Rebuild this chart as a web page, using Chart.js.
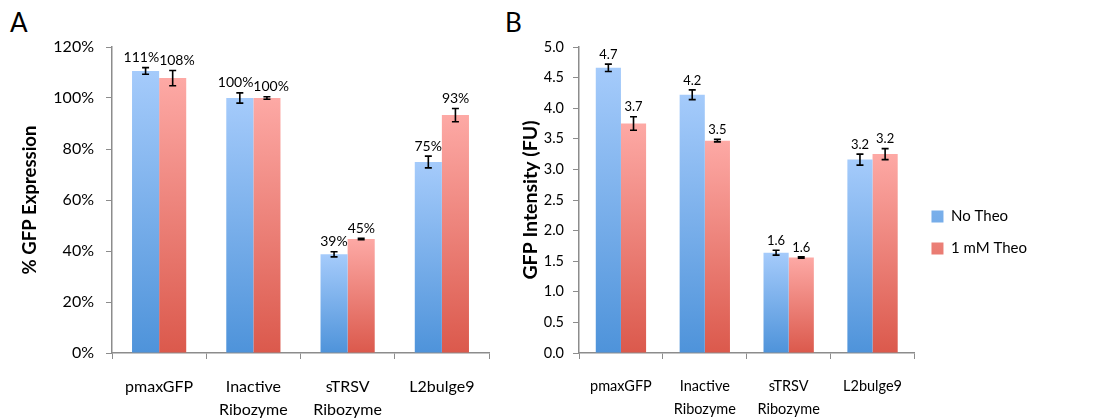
<!DOCTYPE html>
<html>
<head>
<meta charset="utf-8">
<script src="https://cdn.jsdelivr.net/npm/chart.js@4"></script>
<style>
  body { margin: 0; background: #fff; width: 1117px; height: 418px; overflow: hidden; position: relative; font-family: Lato, sans-serif; }
  .wrap { position: absolute; top: 0; height: 418px; }
  #wrapA { left: 0; width: 500px; }
  #wrapB { left: 500px; width: 617px; }
  .panel-tag { position: absolute; top: 6px; font-size: 26px; color: #000; }
</style>
</head>
<body>
<div class="panel-tag" style="left:10px">A</div>
<div class="panel-tag" style="left:505px">B</div>
<div class="wrap" id="wrapA"><canvas id="chartA"></canvas></div>
<div class="wrap" id="wrapB"><canvas id="chartB"></canvas></div>
<script>
// ---------- DATA ----------
const categories = ["pmaxGFP", ["Inactive", "Ribozyme"], ["sTRSV", "Ribozyme"], "L2bulge9"];
const seriesNames = ["No Theo", "1 mM Theo"];

// panel A: % GFP expression
const pctNoTheo   = [110.6, 100.0, 38.7, 74.9];
const pctTheo     = [107.8, 100.0, 44.7, 93.3];
const pctErrNo    = [1.3, 2.0, 1.0, 2.3];
const pctErrTheo  = [3.0, 0.5, 0.3, 2.6];
const pctLabelsNo   = ["111%", "100%", "39%", "75%"];
const pctLabelsTheo = ["108%", "100%", "45%", "93%"];

// panel B: GFP intensity (FU)
const fuNoTheo   = [4.66, 4.22, 1.64, 3.16];
const fuTheo     = [3.75, 3.47, 1.56, 3.25];
const fuErrNo    = [0.06, 0.08, 0.04, 0.09];
const fuErrTheo  = [0.11, 0.02, 0.01, 0.09];
const fuLabelsNo   = ["4.7", "4.2", "1.6", "3.2"];
const fuLabelsTheo = ["3.7", "3.5", "1.6", "3.2"];

const BLUE = ["#a5cbfb", "#4e93da"];
const RED  = ["#fda9a5", "#db594c"];

// ---------- HELPERS ----------
function barGradient(cols) {
  return function (ctx) {
    const chart = ctx.chart;
    const ys = chart.scales.y;
    if (ctx.type !== "data" || !ys || !chart.chartArea) return cols[1];
    const v = ctx.raw;
    const top = ys.getPixelForValue(v);
    const bot = ys.getPixelForValue(0);
    if (!isFinite(top) || !isFinite(bot) || top === bot) return cols[1];
    const g = chart.ctx.createLinearGradient(0, top, 0, bot);
    g.addColorStop(0, cols[0]);
    g.addColorStop(1, cols[1]);
    return g;
  };
}

// error bars + value labels, positioned through the y scale
const errorLabelPlugin = {
  id: "errLabels",
  afterDatasetsDraw(chart, args, opts) {
    const c = chart.ctx;
    const ys = chart.scales.y;
    c.save();
    chart.data.datasets.forEach((ds, di) => {
      const meta = chart.getDatasetMeta(di);
      meta.data.forEach((bar, i) => {
        const v = ds.data[i];
        const e = ds.errors[i];
        const yTop = ys.getPixelForValue(v + e);
        const yBot = ys.getPixelForValue(v - e);
        c.strokeStyle = "#000";
        c.lineWidth = 1.6;
        c.beginPath();
        c.moveTo(bar.x, yTop); c.lineTo(bar.x, yBot);
        c.moveTo(bar.x - 3.5, yTop); c.lineTo(bar.x + 3.5, yTop);
        c.moveTo(bar.x - 3.5, yBot); c.lineTo(bar.x + 3.5, yBot);
        c.stroke();

        c.font = opts.fontSize + "px Lato";
        c.fillStyle = "#000";
        c.textAlign = "center";
        c.textBaseline = "bottom";
        const txt = ds.valueLabels[i];
        const w = c.measureText(txt).width;
        let dx = 0;
        if (w > bar.width) dx = (w - bar.width) / 2 * (di === 0 ? -1 : 1);
        c.fillText(txt, bar.x + dx, yTop - 3);
      });
    });
    c.restore();
  }
};

function makeChart(id, cfg) {
  return new Chart(document.getElementById(id), {
    type: "bar",
    data: {
      labels: categories,
      datasets: [
        { label: seriesNames[0], data: cfg.no, errors: cfg.errNo, valueLabels: cfg.labNo,
          backgroundColor: barGradient(BLUE), borderWidth: 0 },
        { label: seriesNames[1], data: cfg.theo, errors: cfg.errTheo, valueLabels: cfg.labTheo,
          backgroundColor: barGradient(RED), borderWidth: 0 }
      ]
    },
    plugins: [errorLabelPlugin],
    options: {
      responsive: true,
      maintainAspectRatio: false,
      animation: false,
      events: [],
      categoryPercentage: cfg.catPct,
      barPercentage: 1.0,
      layout: { padding: cfg.padding },
      plugins: {
        legend: cfg.legend,
        tooltip: { enabled: false },
        errLabels: { fontSize: cfg.labelSize }
      },
      scales: {
        x: {
          grid: { display: true, drawOnChartArea: false, drawTicks: true, tickLength: 6, color: "#8c8c8c", offset: true },
          border: { color: "#8c8c8c", width: 1.5 },
          ticks: { color: "#000", font: { family: "Lato", size: cfg.tickSize, lineHeight: cfg.lineH }, padding: cfg.xPad, maxRotation: 0, autoSkip: false },
          afterFit: s => { s.height = cfg.xHeight; }
        },
        y: {
          min: 0, max: cfg.max,
          grid: { display: true, drawOnChartArea: false, drawTicks: true, tickLength: 6, color: "#8c8c8c" },
          border: { color: "#8c8c8c", width: 1.5 },
          ticks: { stepSize: cfg.step, color: "#000", font: { family: "Lato", size: cfg.tickSize }, padding: cfg.yPad, callback: cfg.fmt },
          title: { display: true, text: cfg.title, color: "#000", font: { family: "Lato", size: cfg.titleSize, weight: "bold" }, padding: 0 },
          afterFit: s => { s.width = cfg.yWidth; }
        }
      }
    }
  });
}

// ---------- PANEL A ----------
makeChart("chartA", {
  no: pctNoTheo, theo: pctTheo, errNo: pctErrNo, errTheo: pctErrTheo,
  labNo: pctLabelsNo, labTheo: pctLabelsTheo,
  max: 120, step: 20, fmt: v => v + "%",
  title: "% GFP Expression", titleSize: 18.5, tickSize: 16, labelSize: 14, lineH: 1.45,
  catPct: 0.575, padding: { left: 19, right: 11, top: 47, bottom: 0 },
  yWidth: 93, xHeight: 65, xPad: 16, yPad: 12,
  legend: { display: false }
});

// ---------- PANEL B ----------
makeChart("chartB", {
  no: fuNoTheo, theo: fuTheo, errNo: fuErrNo, errTheo: fuErrTheo,
  labNo: fuLabelsNo, labTheo: fuLabelsTheo,
  max: 5, step: 0.5, fmt: v => v.toFixed(1),
  title: "GFP Intensity (FU)", titleSize: 19.5, tickSize: 14.5, labelSize: 13, lineH: 1.6,
  catPct: 0.6, padding: { left: 19, right: 80, top: 47, bottom: 0 },
  yWidth: 60, xHeight: 65, xPad: 16, yPad: 9,
  legend: {
    display: true, position: "right", align: "center",
    labels: { color: "#000", boxWidth: 12, boxHeight: 12, padding: 17, font: { family: "Lato", size: 15 } }
  }
});
</script>
</body>
</html>
